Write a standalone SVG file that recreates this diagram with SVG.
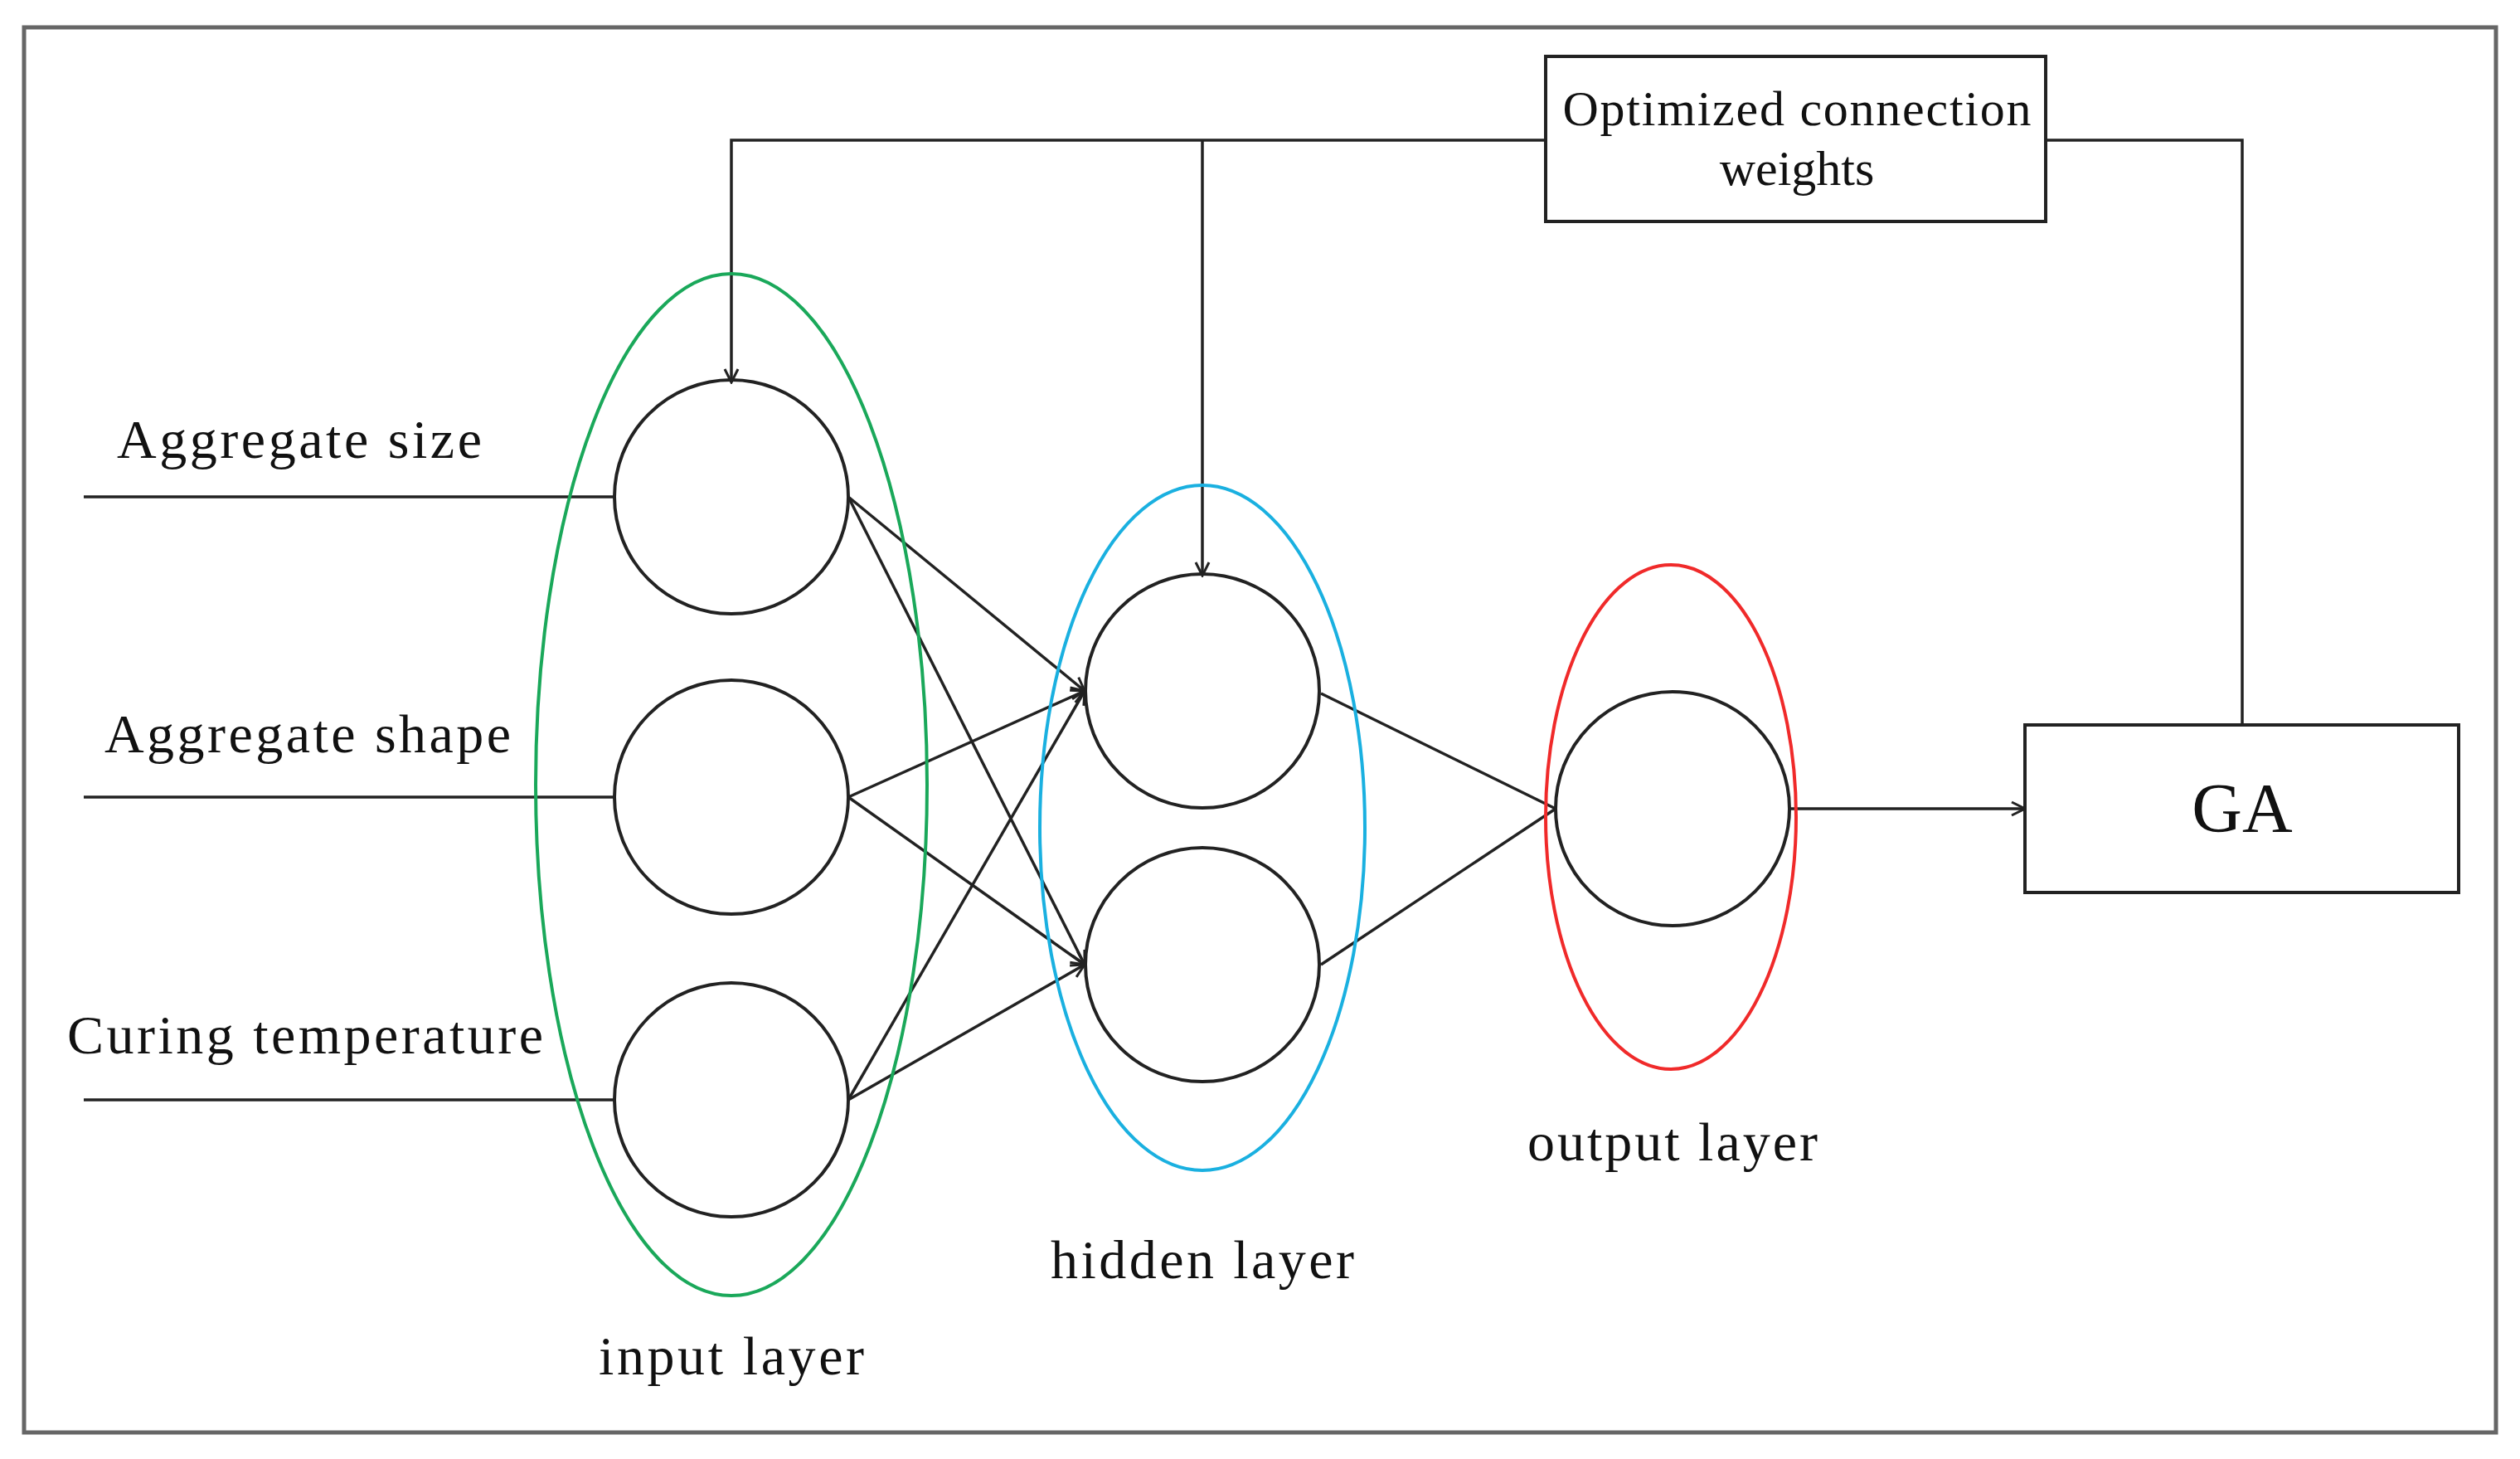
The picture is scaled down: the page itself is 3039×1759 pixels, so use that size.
<svg xmlns="http://www.w3.org/2000/svg" width="3039" height="1759" viewBox="0 0 3039 1759">
<style>
.n{fill:none;stroke:#222;stroke-width:4}
.c{stroke:#222;stroke-width:3.5;fill:none}
.t{font-family:"Liberation Serif",serif;fill:#111}
</style>
<defs><marker id="a" markerWidth="20" markerHeight="20" refX="18" refY="10" orient="auto" markerUnits="userSpaceOnUse"><path d="M2,2 L18,10 L2,18" fill="none" stroke="#222" stroke-width="3"/></marker></defs>
<rect x="0" y="0" width="3039" height="1759" fill="#fff"/>
<rect x="29" y="33" width="2981" height="1694" fill="none" stroke="#666" stroke-width="5"/>
<g id="connectors" class="c">
<path d="M1864,169 H882 V461" marker-end="url(#a)"/>
<path d="M1450,169 V694" marker-end="url(#a)"/>
<path d="M2467,169 H2704 V874"/>
<line x1="101" y1="599" x2="740" y2="599"/>
<line x1="101" y1="961" x2="740" y2="961"/>
<line x1="101" y1="1326" x2="740" y2="1326"/>
<line x1="1023" y1="599" x2="1308" y2="833" marker-end="url(#a)"/>
<line x1="1023" y1="599" x2="1308" y2="1163" marker-end="url(#a)"/>
<line x1="1023" y1="961" x2="1308" y2="833" marker-end="url(#a)"/>
<line x1="1023" y1="961" x2="1308" y2="1163" marker-end="url(#a)"/>
<line x1="1023" y1="1326" x2="1308" y2="833" marker-end="url(#a)"/>
<line x1="1023" y1="1326" x2="1308" y2="1163" marker-end="url(#a)"/>
<line x1="1593" y1="836" x2="1876" y2="975"/>
<line x1="1593" y1="1163" x2="1876" y2="975"/>
<line x1="2159" y1="975" x2="2442" y2="975" marker-end="url(#a)"/>
</g>
<g id="input-layer"><ellipse cx="882" cy="946" rx="236" ry="616" fill="none" stroke="#1aa85a" stroke-width="4"/>
<text class="t" x="882" y="1657" font-size="66" text-anchor="middle" textLength="320" lengthAdjust="spacing">input layer</text></g>
<g id="hidden-layer"><ellipse cx="1450" cy="998" rx="196" ry="413" fill="none" stroke="#1ab0e0" stroke-width="4"/>
<text class="t" x="1450" y="1541" font-size="66" text-anchor="middle" textLength="366" lengthAdjust="spacing">hidden layer</text></g>
<g id="output-layer"><ellipse cx="2015" cy="985" rx="151" ry="304" fill="none" stroke="#f02a2a" stroke-width="4"/>
<text class="t" x="2017" y="1399" font-size="66" text-anchor="middle" textLength="350" lengthAdjust="spacing">output layer</text></g>
<g id="in1"><circle class="n" cx="882" cy="599" r="141"/></g>
<g id="in2"><circle class="n" cx="882" cy="961" r="141"/></g>
<g id="in3"><circle class="n" cx="882" cy="1326" r="141"/></g>
<g id="h1"><circle class="n" cx="1450" cy="833" r="141"/></g>
<g id="h2"><circle class="n" cx="1450" cy="1163" r="141"/></g>
<g id="out"><circle class="n" cx="2017" cy="975" r="141"/></g>
<g id="labels">
<text class="t" x="141" y="552" font-size="66" textLength="440" lengthAdjust="spacing">Aggregate size</text>
<text class="t" x="126" y="907" font-size="66" textLength="490" lengthAdjust="spacing">Aggregate shape</text>
<text class="t" x="81" y="1270" font-size="66" textLength="574" lengthAdjust="spacing">Curing temperature</text>
</g>
<g id="opt"><rect x="1864" y="68" width="603" height="199" fill="#fff" stroke="#222" stroke-width="4"/>
<text class="t" x="2167" y="151" font-size="60" text-anchor="middle" textLength="565" lengthAdjust="spacing">Optimized connection</text>
<text class="t" x="2167" y="223" font-size="60" text-anchor="middle">weights</text></g>
<g id="ga"><rect x="2442" y="874" width="523" height="202" fill="#fff" stroke="#222" stroke-width="4"/>
<text class="t" x="2704" y="1003" font-size="84" text-anchor="middle">GA</text></g>
</svg>
